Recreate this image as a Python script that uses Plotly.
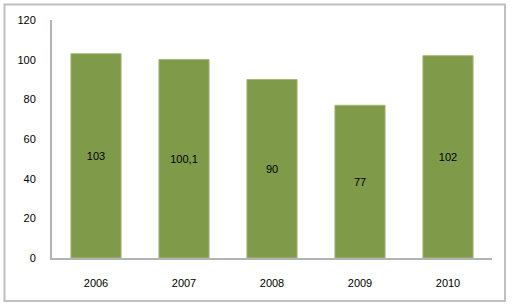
import plotly.graph_objects as go

years = ["2006", "2007", "2008", "2009", "2010"]
values = [103, 100.1, 90, 77, 102]
labels = ["103", "100,1", "90", "77", "102"]

fig = go.Figure()
fig.add_trace(go.Bar(
    x=years, y=values, text=labels,
    textposition="inside", insidetextanchor="middle",
    textfont=dict(family="Liberation Sans", size=11, color="#000000"),
    marker=dict(color="#7f9a48", line=dict(color="#a5b97c", width=1)),
    hoverinfo="skip",
))

fig.update_layout(
    width=512, height=307,
    margin=dict(l=52, r=20, t=20, b=49),
    paper_bgcolor="white", plot_bgcolor="white",
    bargap=0.43,
    showlegend=False,
    font=dict(family="Liberation Sans", size=11, color="#000000"),
    xaxis=dict(showline=True, linecolor="#b3b3b3", linewidth=2, showgrid=False,
               ticks="", ticklabelstandoff=14, fixedrange=True),
    yaxis=dict(range=[0, 120], dtick=20, showline=True, linecolor="#b3b3b3", linewidth=2,
               showgrid=False, zeroline=False, ticks="", ticklabelstandoff=12, fixedrange=True),
    shapes=[dict(type="rect", xref="paper", yref="paper",
                 x0=(4.5 - 52) / 440, x1=(505 - 52) / 440,
                 y0=(258 - 301) / 238, y1=(258 - 4.5) / 238,
                 line=dict(color="#c0c0c0", width=2), layer="below")],
)

fig.write_html("out.html")
